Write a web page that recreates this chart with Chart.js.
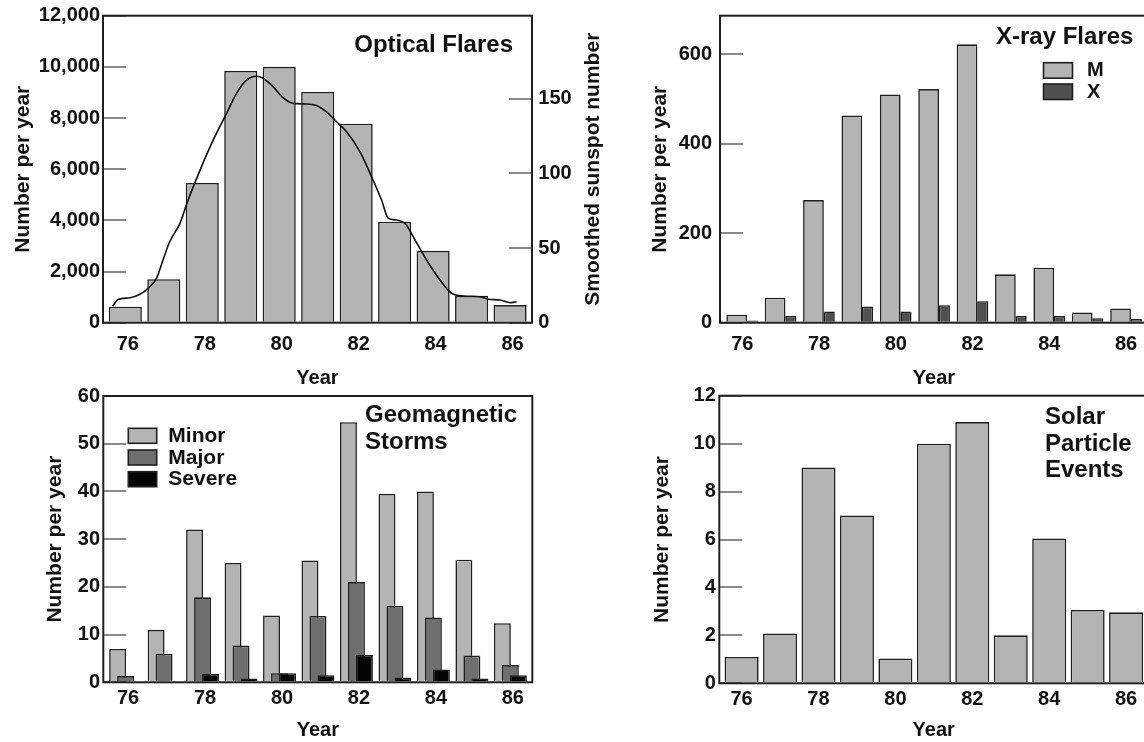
<!DOCTYPE html>
<html>
<head>
<meta charset="utf-8">
<title>Solar activity, cycle 21</title>
<script src="https://cdn.jsdelivr.net/npm/chart.js@4.4.1/dist/chart.umd.min.js"></script>
<style>
  html, body { margin: 0; padding: 0; background: #fff; overflow: hidden; }
  body { position: relative; width: 1144px; height: 742px; }
  canvas { position: absolute; }
  #optical { left: 0; top: 0; }
  #xray { left: 640px; top: 0; }
  #geomag { left: 0; top: 380px; }
  #particles { left: 640px; top: 380px; }
</style>
</head>
<body>
<canvas id="optical" width="620" height="390"></canvas>
<canvas id="xray" width="508" height="390"></canvas>
<canvas id="geomag" width="620" height="362"></canvas>
<canvas id="particles" width="508" height="362"></canvas>
<script>
// values
const years = [76, 77, 78, 79, 80, 81, 82, 83, 84, 85, 86];
const yearTicks = [76, 78, 80, 82, 84, 86];

const opticalFlares = [625, 1700, 5460, 9840, 10000, 9020, 7780, 3950, 2810, 1050, 690];
const opticalTicks = [0, 2000, 4000, 6000, 8000, 10000, 12000];

const sunspotYears = [75.67, 75.81, 76.12, 76.38, 76.59, 76.81, 76.98, 77.15, 77.42, 77.63, 77.94,
  78.28, 78.63, 78.89, 79.15, 79.41, 79.58, 79.84, 80.10, 80.36, 80.71, 80.95, 81.23, 81.49,
  81.75, 82.10, 82.40, 82.66, 82.83, 83.05, 83.27, 83.53, 83.83, 84.18, 84.48, 84.79, 85.22,
  85.44, 85.74, 86.00, 86.17];
const sunspotNumbers = [11, 15.5, 16.7, 19, 23, 29.7, 42, 54, 66.5, 82, 102,
  122, 140, 153.5, 162.4, 165, 163.6, 158, 150.6, 146.8, 146.4, 145.5, 141.2, 134.5,
  127.8, 114.4, 97.7, 82.1, 70, 68.7, 66.5, 55.3, 42, 28.6, 19.7, 17.9, 17.4,
  15.7, 15.2, 13.4, 14];
const sunspotTicks = [0, 50, 100, 150];

const xrayM = [18, 56, 274, 463, 510, 522, 622, 108, 123, 23, 32];
const xrayX = [5, 15, 25, 36, 25, 39, 48, 15, 15, 10, 8];
const xrayTicks = [0, 200, 400, 600];

const stormsMinor = [7, 11, 32, 25, 14, 25.5, 54.5, 39.5, 40, 25.7, 12.4];
const stormsMajor = [1.3, 6, 17.8, 7.7, 1.9, 13.9, 21, 16, 13.6, 5.6, 3.6];
const stormsSevere = [0, 0, 1.75, 0.8, 1.9, 1.5, 5.7, 1, 2.7, 0.8, 1.5];
const stormTicks = [0, 10, 20, 30, 40, 50, 60];

const particleEvents = [1.1, 2.08, 9, 7, 1.03, 10, 10.9, 2, 6.04, 3.06, 2.96];
const particleTicks = [0, 2, 4, 6, 8, 10, 12];

const FONT = '"Liberation Sans", Arial, Helvetica, sans-serif';
const INK = '#111';
const EDGE = '#1e1e1e';
const TICK = '#8a8a8a';
const LIGHT = '#b4b4b4';
const MID = '#6f6f6f';
const DARK = '#505050';
const X_MIN = 75.42, X_MAX = 86.57;

Chart.defaults.font.family = FONT;
Chart.defaults.color = INK;

const pts = (xs, ys) => xs.map((x, i) => ({ x, y: ys[i] }));

function yearAxis(axisHeight, labelPad, labelShift) {
  return {
    type: 'linear', position: 'bottom', bounds: 'data', offset: false, min: X_MIN, max: X_MAX,
    afterBuildTicks: s => { s.ticks = yearTicks.map(value => ({ value })); },
    afterFit: s => { s.height = axisHeight; s.paddingLeft = 0; s.paddingRight = 0; },
    grid: { display: false, offset: false },
    border: { display: false },
    ticks: {
      padding: labelPad, labelOffset: labelShift || 0, color: INK, font: { size: 20, weight: 'bold' },
      maxRotation: 0, autoSkip: false, callback: v => String(v),
    },
    title: { display: true, text: 'Year', color: INK, font: { size: 20, weight: 'bold' }, padding: 0 },
  };
}

// invisible copy of the year axis, slid sideways so side-by-side bars sit where the figure puts them
function slidAxis(shift) {
  return {
    type: 'linear', axis: 'x', position: 'bottom', display: false, bounds: 'data', offset: false,
    min: X_MIN - shift, max: X_MAX - shift,
    afterBuildTicks: s => { s.ticks = []; },
  };
}

function countAxis(tickValues, max, side, axisWidth, labelPad, titleText, titlePad) {
  return {
    type: 'linear', position: side, bounds: 'data', min: 0, max,
    afterBuildTicks: s => { s.ticks = tickValues.map(value => ({ value })); },
    // fixed width; label padding must not push the plot area down
    afterFit: s => { s.width = axisWidth; s.paddingTop = 0; s.paddingBottom = 0; },
    // short tick marks pointing into the plot
    grid: { display: true, drawOnChartArea: false, drawTicks: true, tickLength: -23, color: TICK, lineWidth: 2 },
    border: { display: false },
    ticks: { padding: labelPad, color: INK, font: { size: 20, weight: 'bold' }, autoSkip: false, callback: v => v.toLocaleString('en-US') },
    title: { display: !!titleText, text: titleText || '', color: INK, font: { size: 21, weight: 'bold' }, padding: { top: titlePad, bottom: 0 } },
  };
}

function barSet(label, xs, ys, color, width, extra) {
  return Object.assign({
    type: 'bar', label, data: pts(xs, ys),
    backgroundColor: color, borderColor: EDGE, borderWidth: 1.6,
    barPercentage: width, categoryPercentage: 1, grouped: false,
  }, extra);
}

const frame = {
  id: 'frame',
  afterDatasetsDraw(chart) {
    const { ctx, chartArea: a } = chart;
    ctx.save();
    ctx.strokeStyle = EDGE;
    ctx.lineWidth = 2;
    ctx.strokeRect(a.left, a.top, a.right - a.left, a.bottom - a.top);
    ctx.restore();
  },
};

function writeLines(ctx, lines, x, y, step, align, size) {
  ctx.font = `bold ${size}px ${FONT}`;
  ctx.fillStyle = INK;
  ctx.textAlign = align;
  ctx.textBaseline = 'middle';
  lines.forEach((line, i) => ctx.fillText(line, x, y + i * step));
}

function legendRows(ctx, chart, x, y, step, box, textGap, size) {
  chart.data.datasets.forEach((ds, i) => {
    const top = y + i * step;
    ctx.fillStyle = ds.backgroundColor;
    ctx.fillRect(x, top, box[0], box[1]);
    ctx.strokeStyle = EDGE;
    ctx.lineWidth = 1.6;
    ctx.strokeRect(x, top, box[0], box[1]);
    writeLines(ctx, [ds.label], x + textGap, top + box[1] / 2 + 0.5, 0, 'left', size);
  });
}

function notes(draw) {
  return {
    id: 'notes',
    afterDraw(chart) {
      const { ctx, chartArea } = chart;
      ctx.save();
      draw(ctx, chartArea, chart);
      ctx.restore();
    },
  };
}

const base = {
  responsive: false,
  devicePixelRatio: 1,
  animation: false,
  locale: 'en-US',
  events: [],
  plugins: { legend: { display: false }, tooltip: { enabled: false } },
};

// Optical flares with smoothed sunspot number
new Chart(document.getElementById('optical'), {
  type: 'bar',
  data: {
    datasets: [
      {
        type: 'line', label: 'Smoothed sunspot number', data: pts(sunspotYears, sunspotNumbers),
        yAxisID: 'ySun', borderColor: INK, borderWidth: 1.6, pointRadius: 0,
        cubicInterpolationMode: 'monotone', order: 0,
      },
      barSet('Optical flares', years, opticalFlares, LIGHT, 0.86, { order: 1 }),
    ],
  },
  options: Object.assign({}, base, {
    layout: { padding: { top: 15.7, left: 0, right: 0, bottom: 0 } },
    scales: {
      x: yearAxis(67.3, 1.6, 2.5),
      y: countAxis(opticalTicks, 12000, 'left', 103, 26, 'Number per year', 10.4),
      ySun: countAxis(sunspotTicks, 205.5, 'right', 88, 29.3, '', 0),
    },
  }),
  plugins: [frame, notes((ctx, a) => {
    writeLines(ctx, ['Optical Flares'], a.right - 19, a.top + 29.5, 0, 'right', 24);
    ctx.translate(a.right + 61, (a.top + a.bottom) / 2);
    ctx.rotate(-Math.PI / 2);
    writeLines(ctx, ['Smoothed sunspot number'], 0, 0, 0, 'center', 21);
  })],
});

// X-ray flares, M and X class
new Chart(document.getElementById('xray'), {
  type: 'bar',
  data: {
    datasets: [
      barSet('M', years, xrayM, LIGHT, 0.54, { xAxisID: 'xM', order: 2 }),
      barSet('X', years, xrayX, DARK, 0.29, { xAxisID: 'xX', order: 1 }),
    ],
  },
  options: Object.assign({}, base, {
    layout: { padding: { top: 15.7, left: 0, right: 0, bottom: 0 } },
    scales: {
      x: yearAxis(67.3, 1.6, 0),
      xM: slidAxis(-0.145),
      xX: slidAxis(0.265),
      y: countAxis(xrayTicks, 686, 'left', 80, 31, 'Number per year', 7.4),
    },
  }),
  plugins: [frame, notes((ctx, a, chart) => {
    writeLines(ctx, ['X-ray Flares'], a.left + 276, a.top + 22, 0, 'left', 24);
    legendRows(ctx, chart, a.left + 323.5, a.top + 47, 21.3, [29, 15.5], 43.5, 20);
  })],
});

// Geomagnetic storms by severity
new Chart(document.getElementById('geomag'), {
  type: 'bar',
  data: {
    datasets: [
      barSet('Minor', years, stormsMinor, LIGHT, 0.44, { xAxisID: 'xMinor', order: 3 }),
      barSet('Major', years, stormsMajor, MID, 0.44, { xAxisID: 'x', order: 2 }),
      barSet('Severe', years, stormsSevere, '#050505', 0.44, { xAxisID: 'xSevere', order: 1 }),
    ],
  },
  options: Object.assign({}, base, {
    layout: { padding: { top: 16, left: 0, right: 87.7, bottom: 0 } },
    scales: {
      x: yearAxis(59.7, -3.5, 2.5),
      xMinor: slidAxis(-0.208),
      xSevere: slidAxis(0.208),
      y: countAxis(stormTicks, 60, 'left', 103.3, 26.3, 'Number per year', 42.4),
    },
  }),
  plugins: [frame, notes((ctx, a, chart) => {
    writeLines(ctx, ['Geomagnetic', 'Storms'], a.left + 261.7, a.top + 19, 27, 'left', 24);
    legendRows(ctx, chart, a.left + 25, a.top + 32.3, 21.7, [28.4, 15], 40, 21);
  })],
});

// Solar particle events
new Chart(document.getElementById('particles'), {
  type: 'bar',
  data: {
    datasets: [barSet('Solar particle events', years, particleEvents, LIGHT, 0.885)],
  },
  options: Object.assign({}, base, {
    layout: { padding: { top: 15.7, left: 0, right: 0, bottom: 0 } },
    scales: {
      x: yearAxis(58.7, -4.2, 0),
      y: countAxis(particleTicks, 12, 'left', 79.3, 26.5, 'Number per year', 9.4),
    },
  }),
  plugins: [frame, notes((ctx, a) => {
    writeLines(ctx, ['Solar', 'Particle', 'Events'], a.left + 325.7, a.top + 21.5, 26.7, 'left', 24);
  })],
});
</script>
</body>
</html>
